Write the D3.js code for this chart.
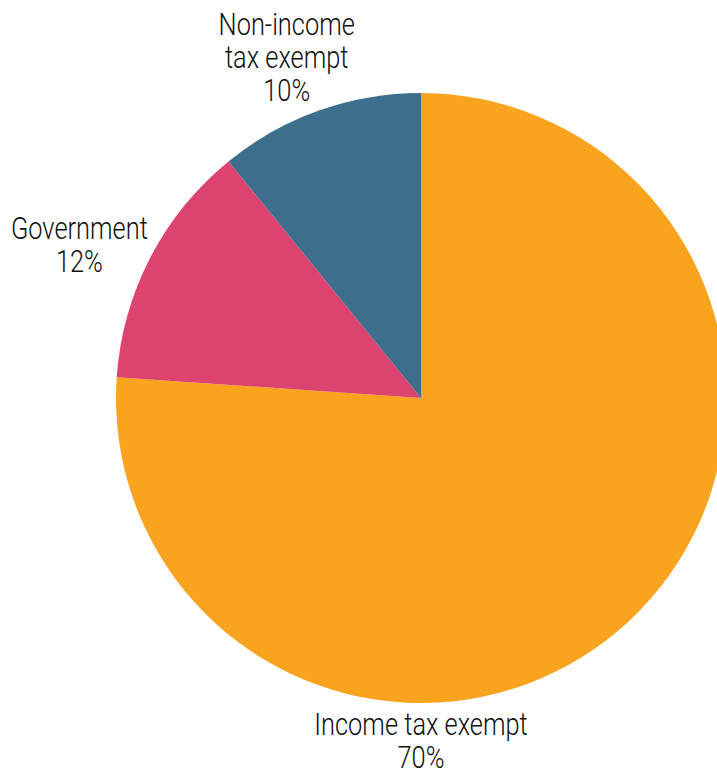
<!DOCTYPE html>
<html><head><meta charset="utf-8">
<script src="https://cdn.jsdelivr.net/npm/d3@7"></script>
<style>body{margin:0;background:#fff}svg{display:block}</style>
</head><body>
<script>
const categories = ["Income tax exempt", "Government", "Non-income tax exempt"];
const labelLines = [["Income tax exempt"], ["Government"], ["Non-income", "tax exempt"]];
const values = [70, 12, 10];
const colors = ["#F9A31F", "#DC436E", "#3D6E8E"];

const W = 717, H = 778;
const cx = 421, cy = 398, R = 305;
const svg = d3.select("body").append("svg").attr("width", W).attr("height", H);
const g = svg.append("g").attr("transform", `translate(${cx},${cy})`);

const data = categories.map((c, i) => ({c, v: values[i], i}));
const pie = d3.pie().value(d => d.v).sort(null);
const arcs = pie(data);
const arc = d3.arc().innerRadius(0).outerRadius(R);

g.selectAll("path").data(arcs).join("path")
  .attr("d", arc).attr("fill", d => colors[d.data.i]);

const font = "Roboto, sans-serif";
const deg = Math.PI / 180;
const lh = 33;
arcs.forEach(a => {
  const i = a.data.i;
  let ang = (a.startAngle + a.endAngle) / 2, rr;
  if (i === 0) { ang = Math.PI; rr = 354; }
  else if (i === 1) { ang -= 4.8 * deg; rr = 370; }
  else { ang -= 2.6 * deg; rr = 356; }
  const x = Math.sin(ang) * rr, y = -Math.cos(ang) * rr;
  const lines = labelLines[i].concat([values[i] + "%"]);
  const t = g.append("text").attr("text-anchor", "middle")
    .attr("font-family", font).attr("font-weight", 300).attr("font-size", 31)
    .attr("fill", "#111")
    .attr("transform", `translate(${x},0) scale(0.82,1)`);
  lines.forEach((l, k) => {
    t.append("tspan").attr("x", 0)
      .attr("y", y + (k - (lines.length - 1) / 2) * lh).text(l);
  });
});
</script>
</body></html>
